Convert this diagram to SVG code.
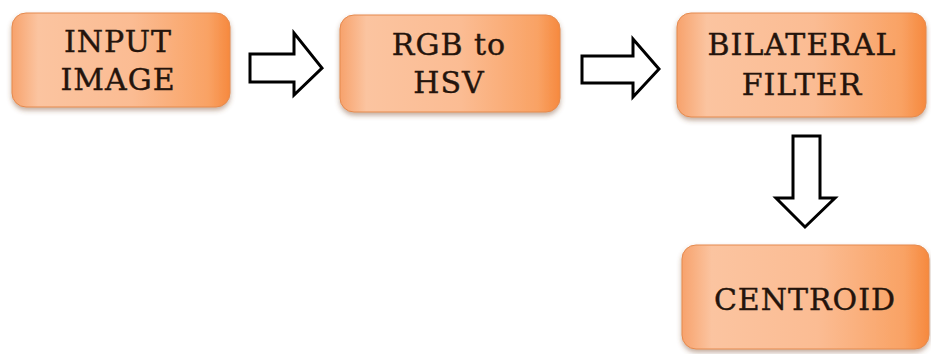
<svg xmlns="http://www.w3.org/2000/svg" width="931" height="354" viewBox="0 0 931 354">
<defs>
<linearGradient id="g" x1="0" y1="0" x2="1" y2="0">
<stop offset="0" stop-color="#F7A26C"/>
<stop offset="0.12" stop-color="#FBC4A0"/>
<stop offset="0.55" stop-color="#FBBC93"/>
<stop offset="0.9" stop-color="#F9A264"/>
<stop offset="1" stop-color="#F6893E"/>
</linearGradient>
<filter id="sh" x="-10%" y="-10%" width="120%" height="130%">
<feDropShadow dx="0" dy="3" stdDeviation="2.5" flood-color="#7a4a2a" flood-opacity="0.45"/>
</filter>
<style>
.box{fill:url(#g);stroke:#E58A4E;stroke-width:1;filter:url(#sh)}
.t{font-family:"DejaVu Serif","Liberation Serif",serif;font-size:30px;letter-spacing:1px;fill:#24140c;stroke:#24140c;stroke-width:0.4;text-anchor:middle}
.arr{fill:#ffffff;stroke:#000000;stroke-width:3;stroke-linejoin:miter}
</style>
</defs>
<rect width="931" height="354" fill="#ffffff"/>
<g id="connectors">
<polygon class="arr" points="250,54 294,54 294,33 322,68 294,95 294,82 250,82"/>
<polygon class="arr" points="582,56 633,56 633,39 659,69 633,97 633,83 582,83"/>
<polygon class="arr" points="793,136 820,136 820,198 835,198 805,227 776,198 793,198"/>
</g>
<g id="input-image">
<rect class="box" x="12" y="13" width="218" height="94" rx="14"/>
<text class="t" x="118" y="52">INPUT</text>
<text class="t" x="118" y="90">IMAGE</text>
</g>
<g id="rgb-to-hsv">
<rect class="box" x="340" y="15" width="220" height="97" rx="14"/>
<text class="t" x="449" y="55">RGB  to</text>
<text class="t" x="449" y="93">HSV</text>
</g>
<g id="bilateral-filter">
<rect class="box" x="677" y="13" width="249" height="104" rx="14"/>
<text class="t" x="802" y="55">BILATERAL</text>
<text class="t" x="802" y="95">FILTER</text>
</g>
<g id="centroid">
<rect class="box" x="682" y="245" width="247" height="104" rx="14"/>
<text class="t" x="805" y="310">CENTROID</text>
</g>
</svg>
